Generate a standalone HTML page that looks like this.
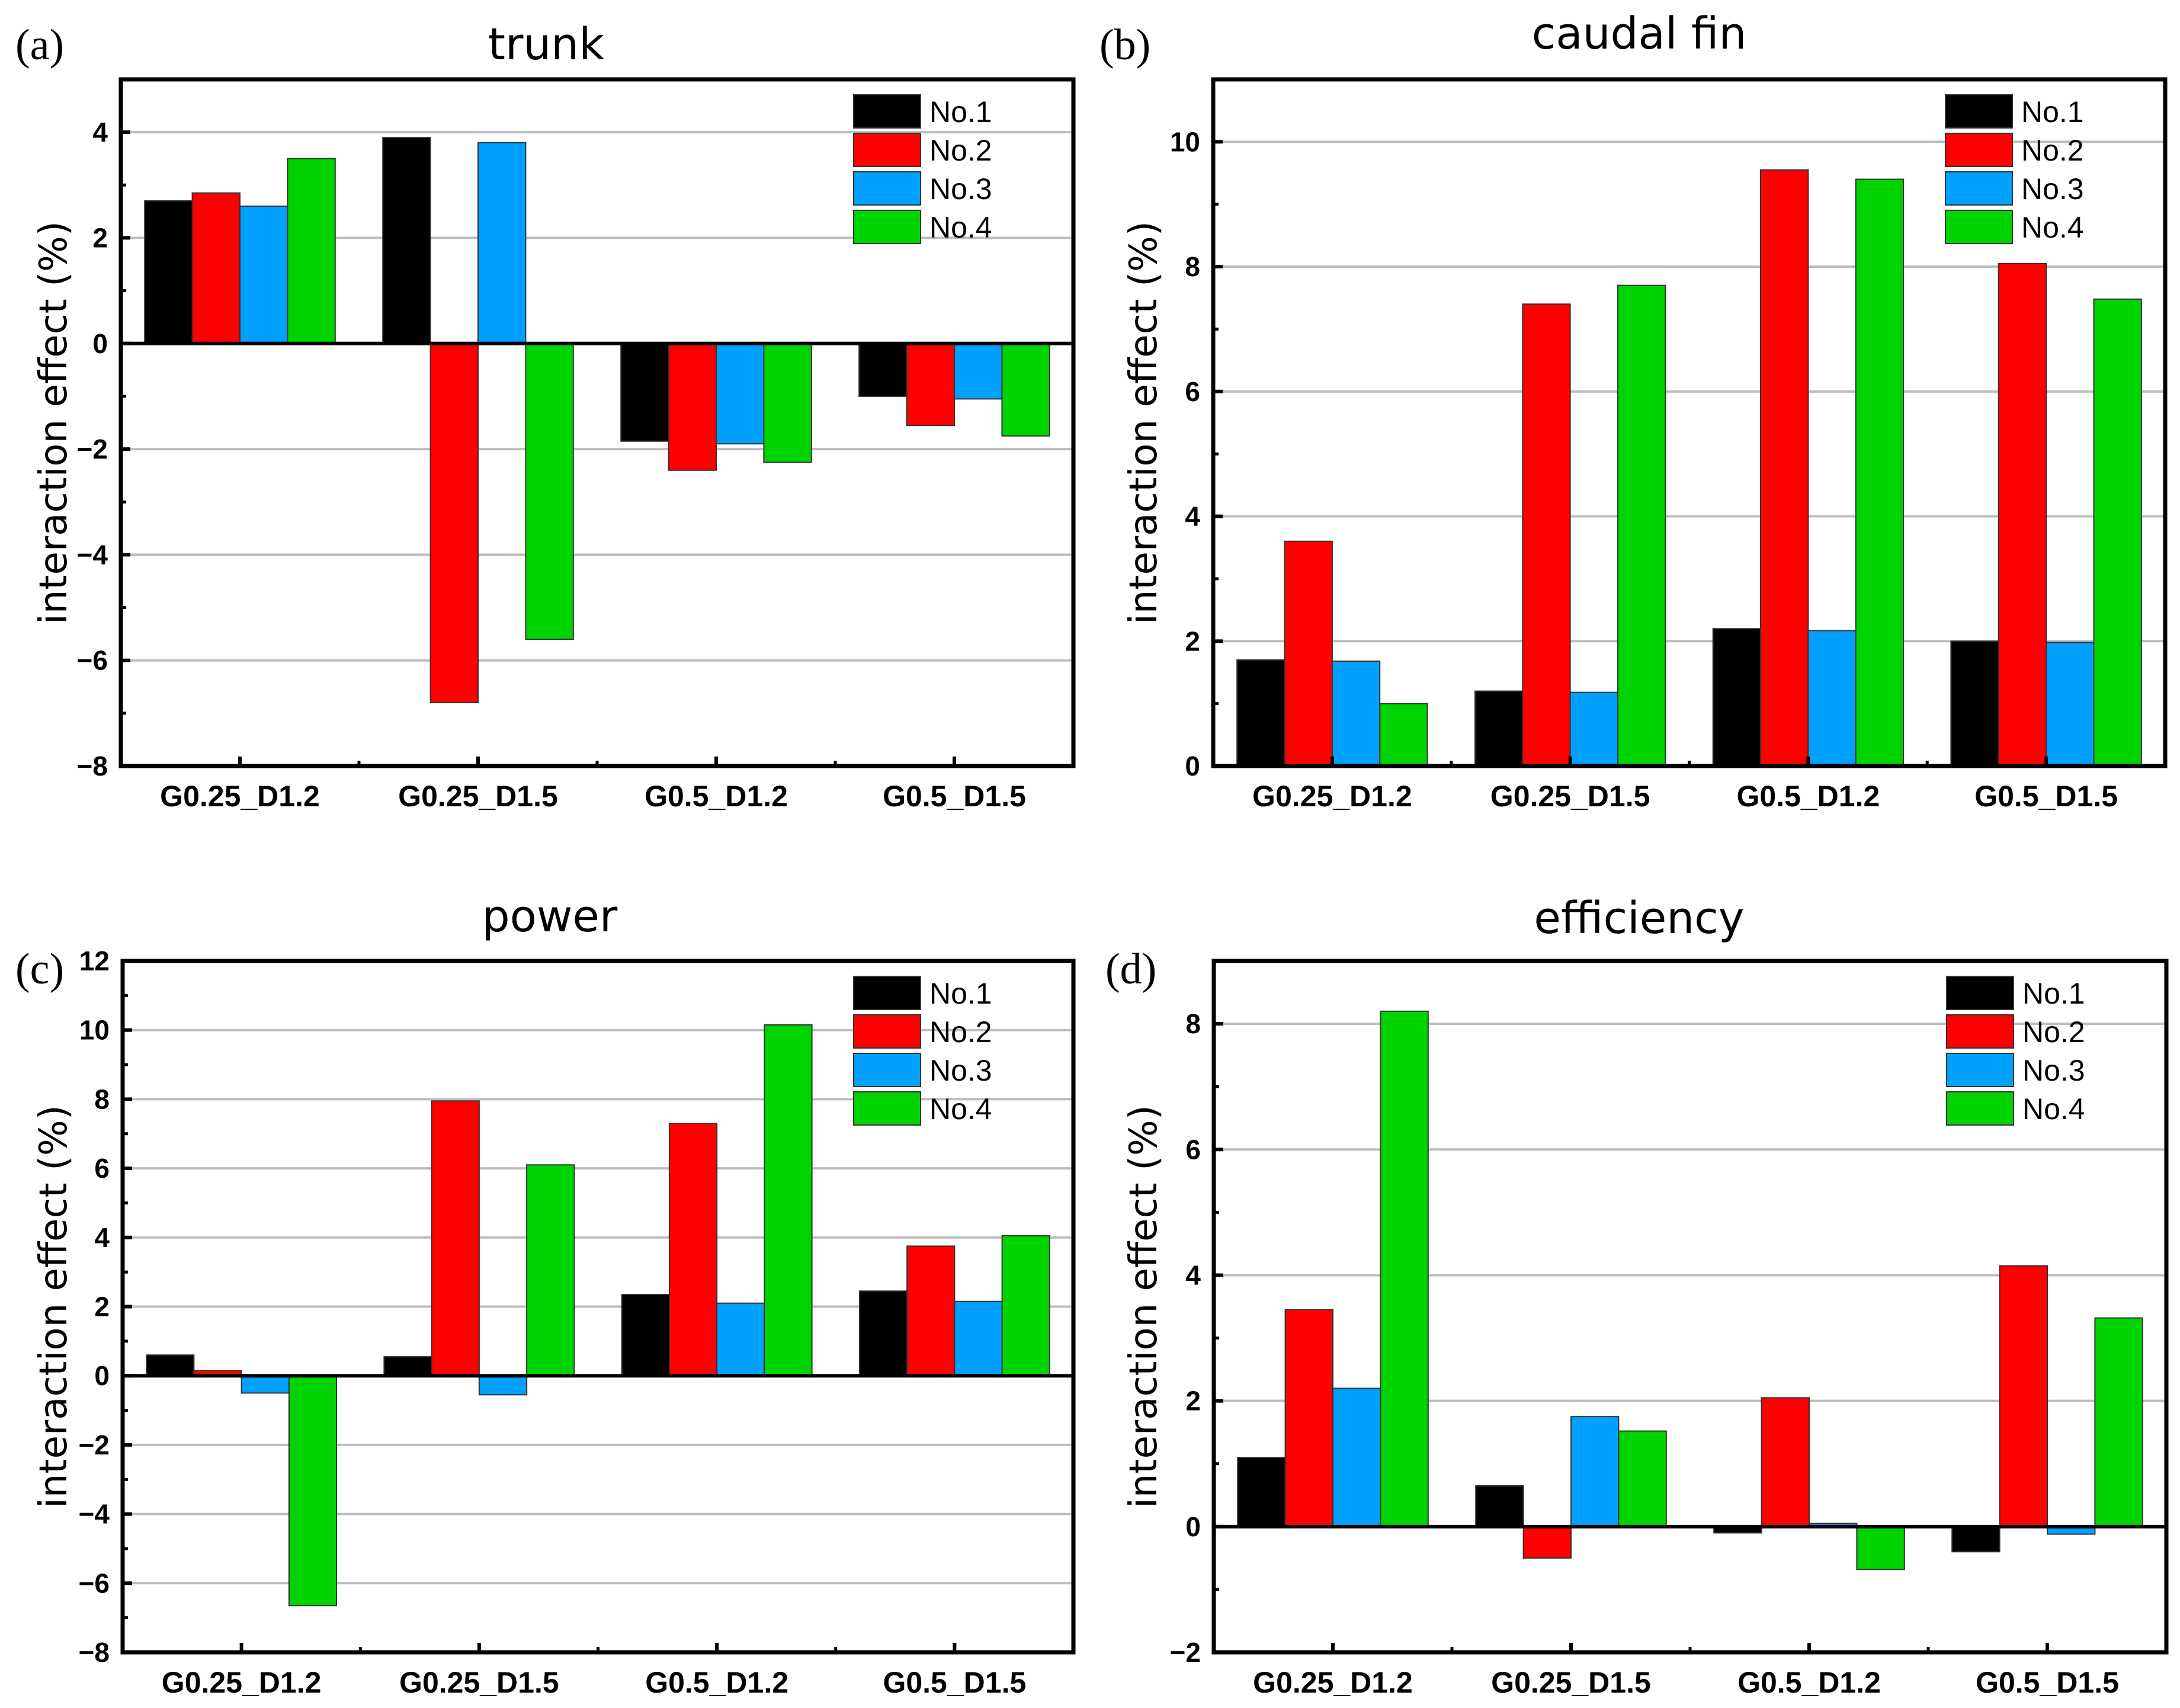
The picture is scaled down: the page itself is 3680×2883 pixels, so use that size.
<!DOCTYPE html>
<html><head><meta charset="utf-8"><style>
html,body{margin:0;padding:0;background:#fff;}
svg{display:block;}
</style></head><body>
<svg id="fig" width="3680" height="2883" viewBox="0 0 3680 2883" xmlns="http://www.w3.org/2000/svg"></svg>
<script>
const categories = ["G0.25_D1.2","G0.25_D1.5","G0.5_D1.2","G0.5_D1.5"];
const seriesNames = ["No.1","No.2","No.3","No.4"];
const seriesColors = ["#000000","#ff0000","#00a0ff","#00d400"];

const trunkNo1 = [2.7, 3.9, -1.85, -1.0];
const trunkNo2 = [2.85, -6.8, -2.4, -1.55];
const trunkNo3 = [2.6, 3.8, -1.9, -1.05];
const trunkNo4 = [3.5, -5.6, -2.25, -1.75];
const trunkTicks = [-8,-6,-4,-2,0,2,4];

const caudalNo1 = [1.7, 1.2, 2.2, 2.0];
const caudalNo2 = [3.6, 7.4, 9.55, 8.05];
const caudalNo3 = [1.68, 1.18, 2.17, 1.98];
const caudalNo4 = [1.0, 7.7, 9.4, 7.48];
const caudalTicks = [0,2,4,6,8,10];

const powerNo1 = [0.6, 0.55, 2.35, 2.45];
const powerNo2 = [0.15, 7.95, 7.3, 3.75];
const powerNo3 = [-0.5, -0.55, 2.1, 2.15];
const powerNo4 = [-6.65, 6.1, 10.15, 4.05];
const powerTicks = [-8,-6,-4,-2,0,2,4,6,8,10,12];

const effNo1 = [1.1, 0.65, -0.1, -0.4];
const effNo2 = [3.45, -0.5, 2.05, 4.15];
const effNo3 = [2.2, 1.75, 0.05, -0.12];
const effNo4 = [8.2, 1.52, -0.68, 3.32];
const effTicks = [-2,0,2,4,6,8];

const NS = "http://www.w3.org/2000/svg";
const svg = document.getElementById("fig");
function mk(tag, attrs, parent, text){
  const e = document.createElementNS(NS, tag);
  for (const k in attrs) e.setAttribute(k, attrs[k]);
  if (text !== undefined) e.textContent = text;
  (parent || svg).appendChild(e);
  return e;
}

function panel(cfg){
  const g = mk("g", {});
  
  
  const {L,R,T,B,ymin,ymax} = cfg;
  const y = v => B - (v - ymin) / (ymax - ymin) * (B - T);
  const gw = (R - L) / categories.length;
  const x = i => L + gw * (i + 0.5);
  cfg.ticks.forEach(t => {
    if (t === ymin || t === 0) return;
    const gl = mk("line", {x1:L, x2:R, y1:y(t), y2:y(t), stroke:"#bdbdbd", "stroke-width":4}, g);
    
    
  });
  const bw = gw * 0.2;
  cfg.series.forEach((arr, s) => {
    arr.forEach((v, i) => {
      const x0 = x(i) - 2 * bw + s * bw;
      const y0 = Math.min(y(v), y(0)), h = Math.abs(y(v) - y(0));
      const r = mk("rect", {x:x0, y:y0, width:bw, height:h, fill:seriesColors[s], stroke:"#333", "stroke-width":2}, g);
      
      
    });
  });
  if (ymin < 0) {
    const z = mk("line", {x1:L, x2:R, y1:y(0), y2:y(0), stroke:"#000", "stroke-width":6}, g);
    
    
  }
  const fr = mk("rect", {x:L, y:T, width:R-L, height:B-T, fill:"none", stroke:"#000", "stroke-width":7}, g);
  
  
  cfg.ticks.forEach((t, k) => {
    mk("line", {x1:L, x2:L+16, y1:y(t), y2:y(t), stroke:"#000", "stroke-width":6}, g);
    if (k < cfg.ticks.length - 1) {
      const m = (t + cfg.ticks[k+1]) / 2;
      mk("line", {x1:L, x2:L+9, y1:y(m), y2:y(m), stroke:"#000", "stroke-width":5}, g);
    }
    const lab = mk("text", {x:L-22, y:y(t)+16, "text-anchor":"end", "font-family":"Liberation Sans, sans-serif", "font-weight":"bold", "font-size":46}, g, t < 0 ? "\u2212" + Math.abs(t) : String(t));
    
    
  });
  categories.forEach((c, i) => {
    mk("line", {x1:x(i), x2:x(i), y1:B, y2:B-16, stroke:"#000", "stroke-width":6}, g);
    if (i > 0) mk("line", {x1:L+gw*i, x2:L+gw*i, y1:B, y2:B-9, stroke:"#000", "stroke-width":5}, g);
    const lab = mk("text", {x:x(i), y:B+68, "text-anchor":"middle", "font-family":"Liberation Sans, sans-serif", "font-weight":"bold", "font-size":50}, g, c);
    
    
  });
  const tt = mk("text", {x:cfg.titleX, y:cfg.titleY, "text-anchor":"middle", "font-family":"DejaVu Sans, Liberation Sans, sans-serif", "font-size":74}, g, cfg.title);
  
  
  const pl = mk("text", {x:cfg.labX, y:cfg.labY, "font-family":"Liberation Serif, serif", "font-size":74}, g, cfg.label);
  
  
  const yc = (T + B) / 2;
  const yt = mk("text", {x:0, y:0, "text-anchor":"middle", "font-family":"DejaVu Sans, Liberation Sans, sans-serif", "font-size":64, transform:`translate(${cfg.ytX},${yc}) rotate(-90)`}, g, cfg.ytitle);
  
  
  const lx = R - 371, ly = T + 26;
  seriesNames.forEach((n, s) => {
    const sw = mk("rect", {x:lx, y:ly + s*65, width:113, height:56, fill:seriesColors[s], stroke:"#333", "stroke-width":2}, g);
    
    
    const lt = mk("text", {x:lx+128, y:ly + s*65 + 46, "font-family":"Liberation Sans, sans-serif", "font-size":50}, g, n);
    
    
  });
}

panel({id:"trunk", L:204, R:1812, T:134, B:1293, ymin:-8, ymax:5, ticks:trunkTicks,
  series:[trunkNo1,trunkNo2,trunkNo3,trunkNo4], title:"trunk", titleX:922, titleY:100,
  label:"(a)", labX:26, labY:100, ytitle:"interaction effect (%)", ytX:112});
panel({id:"caudal-fin", L:2048, R:3655, T:134, B:1293, ymin:0, ymax:11, ticks:caudalTicks,
  series:[caudalNo1,caudalNo2,caudalNo3,caudalNo4], title:"caudal fin", titleX:2767, titleY:82,
  label:"(b)", labX:1856, labY:100, ytitle:"interaction effect  (%)", ytX:1952});
panel({id:"power", L:207, R:1812, T:1622, B:2789, ymin:-8, ymax:12, ticks:powerTicks,
  series:[powerNo1,powerNo2,powerNo3,powerNo4], title:"power", titleX:928, titleY:1572,
  label:"(c)", labX:26, labY:1660, ytitle:"interaction effect  (%)", ytX:112});
panel({id:"efficiency", L:2049, R:3657, T:1622, B:2789, ymin:-2, ymax:9, ticks:effTicks,
  series:[effNo1,effNo2,effNo3,effNo4], title:"efficiency", titleX:2767, titleY:1575,
  label:"(d)", labX:1866, labY:1660, ytitle:"interaction effect      (%)", ytX:1952});
</script>
</body></html>
